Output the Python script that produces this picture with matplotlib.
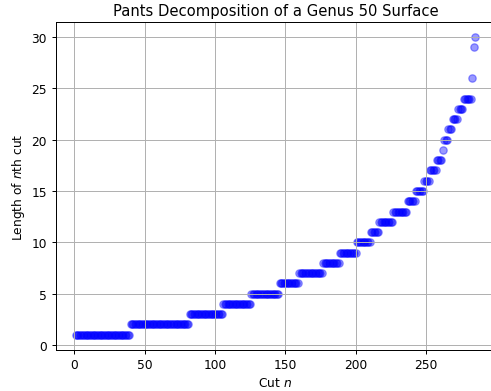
import numpy as np
import matplotlib
matplotlib.use("Agg")
import matplotlib.pyplot as plt

# Length values and how many cuts have each length
lengths = [1, 2, 3, 4, 5, 6, 7, 8, 9, 10, 11, 12, 13, 14, 15, 16, 17, 18,
           19, 20, 21, 22, 23, 24, 26, 29, 30]
counts = [39, 42, 24, 20, 20, 14, 17, 12, 12, 10, 6, 10, 10, 6, 6, 4, 5, 4,
          1, 3, 3, 4, 4, 6, 1, 1, 1]

cut_lengths = np.repeat(lengths, counts)
cut_index = np.arange(1, len(cut_lengths) + 1)

DPI = 88.6
fig = plt.figure(figsize=(492 / DPI, 392 / DPI), dpi=DPI)
ax = fig.add_axes([55.7 / 492, 41.4 / 392, 439.3 / 492, 327.5 / 392])
ax.scatter(cut_index, cut_lengths, color="blue", alpha=0.4)
ax.grid(True)
ax.set_title("Pants Decomposition of a Genus 50 Surface")
ax.set_xlabel("Cut $n$")
ax.set_ylabel("Length of $n$th cut")
fig.savefig("out.png", dpi=DPI)
